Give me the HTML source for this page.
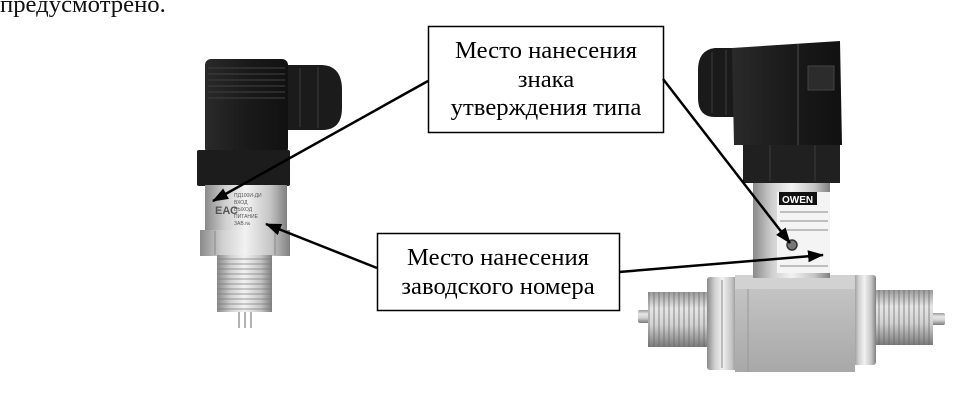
<!DOCTYPE html>
<html><head><meta charset="utf-8"><style>
html,body{margin:0;padding:0;background:#fff;}
svg{display:block;}
</style></head><body>
<svg width="975" height="405" viewBox="0 0 975 405" xmlns="http://www.w3.org/2000/svg">
<defs>
<linearGradient id="met" x1="0" x2="1" y1="0" y2="0">
<stop offset="0" stop-color="#8a8a8a"/><stop offset="0.25" stop-color="#d0d0d0"/><stop offset="0.5" stop-color="#f2f2f2"/><stop offset="0.8" stop-color="#c4c4c4"/><stop offset="1" stop-color="#808080"/>
</linearGradient>
<linearGradient id="metv" x1="0" x2="0" y1="0" y2="1">
<stop offset="0" stop-color="#9a9a9a"/><stop offset="0.3" stop-color="#e6e6e6"/><stop offset="0.6" stop-color="#d2d2d2"/><stop offset="1" stop-color="#7a7a7a"/>
</linearGradient>
<linearGradient id="blk" x1="0" x2="1" y1="0" y2="0">
<stop offset="0" stop-color="#2a2a2a"/><stop offset="0.5" stop-color="#1a1a1a"/><stop offset="1" stop-color="#111"/>
</linearGradient>
<linearGradient id="blockg" x1="0" x2="0" y1="0" y2="1">
<stop offset="0" stop-color="#c8c8c8"/><stop offset="0.5" stop-color="#b8b8b8"/><stop offset="1" stop-color="#a8a8a8"/>
</linearGradient>
<pattern id="thr" width="6" height="5" patternUnits="userSpaceOnUse">
<rect width="6" height="5" fill="none"/><line x1="0" y1="4" x2="6" y2="4" stroke="#777" stroke-width="1.2" opacity="0.6"/>
</pattern>
<pattern id="thrv" width="5" height="6" patternUnits="userSpaceOnUse">
<line x1="4" y1="0" x2="4" y2="6" stroke="#666" stroke-width="1.2" opacity="0.6"/>
</pattern>
<marker id="ah" markerUnits="userSpaceOnUse" markerWidth="16" markerHeight="12" refX="15" refY="6" orient="auto">
<path d="M0,0 L16,6 L0,12 z" fill="#000"/>
</marker>
</defs>

<!-- top text -->
<text x="0" y="12" font-family="Liberation Serif, serif" font-size="24.7" fill="#111">предусмотрено.</text>

<!-- LEFT SENSOR -->
<path d="M283,65 L322,65 Q342,66 342,90 L342,108 Q342,130 322,130 L283,130 Z" fill="#1b1b1b"/>
<g stroke="#333" stroke-width="1.5"><line x1="300" y1="68" x2="300" y2="127"/><line x1="318" y1="67" x2="318" y2="128"/></g>
<rect x="205" y="59" width="83" height="95" rx="6" fill="url(#blk)"/>
<g stroke="#3a3a3a" stroke-width="1.3">
<line x1="208" y1="68" x2="285" y2="68"/><line x1="208" y1="74" x2="285" y2="74"/><line x1="208" y1="80" x2="285" y2="80"/><line x1="208" y1="86" x2="285" y2="86"/><line x1="208" y1="92" x2="285" y2="92"/><line x1="208" y1="98" x2="285" y2="98"/>
</g>
<rect x="197" y="150" width="93" height="36" rx="2" fill="#1c1c1c"/>
<rect x="205" y="185" width="82" height="46" fill="url(#met)"/>
<g fill="#555" font-family="Liberation Sans, sans-serif" font-size="5">
<text x="234" y="197">ПД100И-ДИ</text><text x="234" y="204">ВХОД</text><text x="234" y="211">ВЫХОД</text><text x="234" y="218">ПИТАНИЕ</text><text x="234" y="225">ЗАВ.№</text>
</g>
<text x="215" y="214" font-family="Liberation Sans, sans-serif" font-size="11" fill="#555" font-weight="bold">ЕАС</text>
<rect x="200" y="230" width="90" height="26" fill="url(#met)"/>
<g stroke="#888" stroke-width="1"><line x1="215" y1="231" x2="215" y2="255"/><line x1="275" y1="231" x2="275" y2="255"/></g>
<rect x="217" y="255" width="55" height="57" fill="url(#met)"/>
<rect x="217" y="255" width="55" height="57" fill="url(#thr)"/>
<g stroke="#999" stroke-width="1.5"><line x1="239" y1="312" x2="239" y2="328"/><line x1="245" y1="312" x2="245" y2="328"/><line x1="251" y1="312" x2="251" y2="328"/></g>

<!-- RIGHT SENSOR -->
<rect x="638" y="310" width="14" height="13" rx="2" fill="url(#metv)"/>
<rect x="648" y="292" width="62" height="55" fill="url(#metv)"/>
<rect x="648" y="292" width="62" height="55" fill="url(#thrv)"/>
<rect x="931" y="313" width="14" height="12" rx="2" fill="url(#metv)"/>
<rect x="874" y="290" width="59" height="55" fill="url(#metv)"/>
<rect x="874" y="290" width="59" height="55" fill="url(#thrv)"/>
<rect x="707" y="277" width="31" height="93" rx="3" fill="url(#met)"/>
<line x1="722" y1="280" x2="722" y2="368" stroke="#888" stroke-width="1"/>
<rect x="853" y="275" width="23" height="90" rx="3" fill="url(#met)"/>
<rect x="735" y="275" width="120" height="97" fill="url(#blockg)"/>
<rect x="735" y="275" width="120" height="14" fill="#d2d2d2"/>
<line x1="748" y1="289" x2="748" y2="372" stroke="#999" stroke-width="1"/>
<rect x="753" y="180" width="77" height="98" fill="url(#met)"/>
<rect x="777" y="192" width="53" height="81" fill="#f4f4f4"/>
<rect x="779" y="192" width="38" height="13" fill="#111"/>
<text x="782" y="203" font-family="Liberation Sans, sans-serif" font-size="10" font-weight="bold" fill="#fff">OWEN</text>
<g stroke="#888" stroke-width="1"><line x1="780" y1="212" x2="828" y2="212"/><line x1="780" y1="221" x2="828" y2="221"/><line x1="780" y1="230" x2="828" y2="230"/><line x1="780" y1="266" x2="828" y2="266"/></g>
<circle cx="792" cy="245" r="5" fill="#777" stroke="#333" stroke-width="1.5"/>
<rect x="743" y="143" width="97" height="40" fill="#202020"/>
<g stroke="#333" stroke-width="1.5"><line x1="770" y1="145" x2="770" y2="181"/><line x1="815" y1="145" x2="815" y2="181"/></g>
<path d="M745,48 L715,48 Q698,50 698,70 L698,98 Q698,117 715,117 L745,117 Z" fill="#1a1a1a"/>
<g stroke="#333" stroke-width="1.5"><line x1="712" y1="52" x2="712" y2="113"/><line x1="726" y1="50" x2="726" y2="115"/></g>
<path d="M732,48 L840,41 L842,145 L734,145 Z" fill="url(#blk)"/>
<line x1="798" y1="44" x2="798" y2="145" stroke="#3a3a3a" stroke-width="1.5"/>
<rect x="808" y="66" width="26" height="24" fill="#2c2c2c" stroke="#444" stroke-width="1"/>

<!-- BOXES -->
<rect x="428.5" y="26.5" width="235" height="106" fill="#fff" stroke="#000" stroke-width="1.5"/>
<g font-family="Liberation Serif, serif" font-size="24.7" fill="#000" text-anchor="middle">
<text x="546" y="58">Место нанесения</text>
<text x="546" y="87">знака</text>
<text x="546" y="115">утверждения типа</text>
</g>
<rect x="377.5" y="233.5" width="242" height="77" fill="#fff" stroke="#000" stroke-width="1.5"/>
<g font-family="Liberation Serif, serif" font-size="24.7" fill="#000" text-anchor="middle">
<text x="498" y="265">Место нанесения</text>
<text x="498" y="294">заводского номера</text>
</g>

<!-- ARROWS -->
<g stroke="#000" stroke-width="2.5" fill="none">
<line x1="428" y1="81" x2="213" y2="201" marker-end="url(#ah)"/>
<line x1="663" y1="79" x2="790" y2="243" marker-end="url(#ah)"/>
<line x1="377" y1="268" x2="266" y2="224" marker-end="url(#ah)"/>
<line x1="619" y1="272" x2="823" y2="255" marker-end="url(#ah)"/>
</g>
</svg>
</body></html>
